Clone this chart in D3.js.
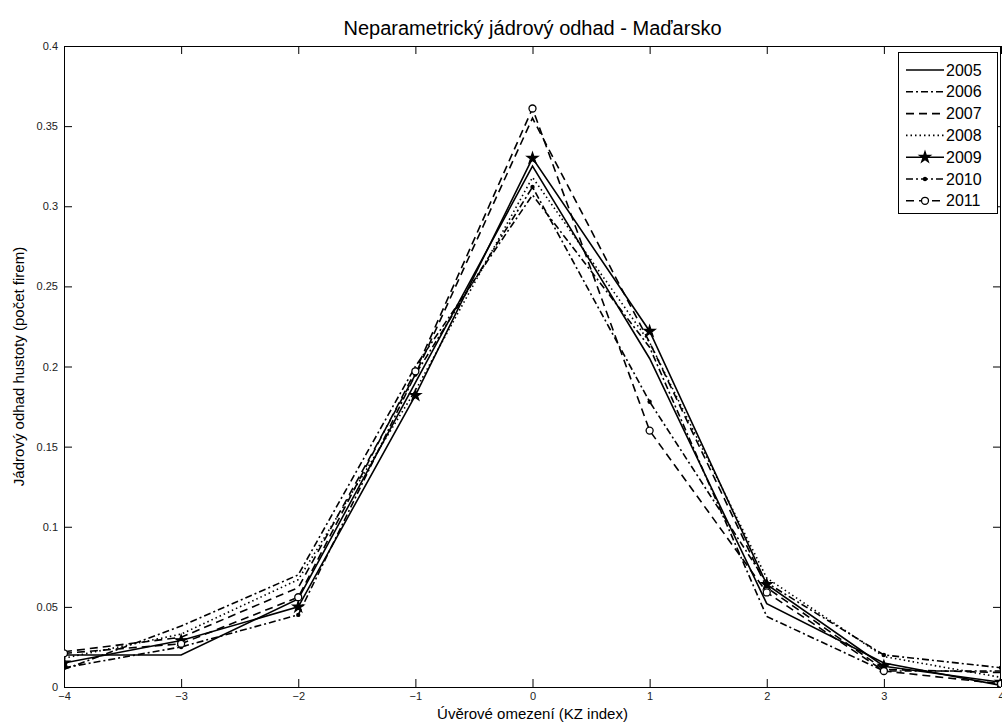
<!DOCTYPE html>
<html>
<head>
<meta charset="utf-8">
<script src="https://cdn.jsdelivr.net/npm/d3@7.9.0/dist/d3.min.js"></script>
<style>
  body { margin: 0; background: #fff; }
  svg { font-family: "Liberation Sans", Arial, sans-serif; }
</style>
</head>
<body>
<div id="chart"></div>
<script>
const xValues = [-4, -3, -2, -1, 0, 1, 2, 3, 4];
const years = ['2005', '2006', '2007', '2008', '2009', '2010', '2011'];
const y2005 = [0.020, 0.020, 0.055, 0.190, 0.325, 0.205, 0.052, 0.015, 0.001];
const y2006 = [0.011, 0.038, 0.070, 0.200, 0.307, 0.212, 0.044, 0.010, 0.010];
const y2007 = [0.022, 0.031, 0.062, 0.195, 0.355, 0.215, 0.062, 0.011, 0.009];
const y2008 = [0.018, 0.033, 0.067, 0.185, 0.318, 0.215, 0.068, 0.019, 0.006];
const y2009 = [0.015, 0.029, 0.050, 0.182, 0.330, 0.222, 0.064, 0.013, 0.003];
const y2010 = [0.012, 0.025, 0.045, 0.195, 0.312, 0.178, 0.065, 0.020, 0.012];
const y2011 = [0.021, 0.027, 0.056, 0.197, 0.361, 0.160, 0.059, 0.010, 0.002];
const xTicks = [-4, -3, -2, -1, 0, 1, 2, 3, 4];
const yTicks = [0, 0.05, 0.1, 0.15, 0.2, 0.25, 0.3, 0.35, 0.4];

const seriesValues = [y2005, y2006, y2007, y2008, y2009, y2010, y2011];
// matlab-like line styles
const styles = [
  { dash: null, marker: null },
  { dash: '7,3,2,3', marker: null },
  { dash: '8,5', marker: null },
  { dash: '1.5,3', marker: null },
  { dash: null, marker: 'star' },
  { dash: '7,3,2,3', marker: 'dot' },
  { dash: '8,5', marker: 'circle' },
];

const width = 1002, height = 724;
const margin = { top: 46, right: 1, bottom: 37, left: 64 };
const usable = {
  left: margin.left, top: margin.top,
  right: width - margin.right, bottom: height - margin.bottom,
};

const svg = d3.select('#chart').append('svg')
  .attr('width', width).attr('height', height);

const xScale = d3.scaleLinear().domain([-4, 4]).range([usable.left, usable.right]);
const yScale = d3.scaleLinear().domain([0, 0.4]).range([usable.bottom, usable.top]);

// axes (ticks pointing inward, box on)
const tickLen = 8;
const fmt = d => d === 0 ? '0' : String(+d.toFixed(2));

svg.append('g')
  .attr('transform', `translate(0,${usable.bottom})`)
  .call(d3.axisBottom(xScale).tickValues(xTicks).tickSize(-tickLen).tickPadding(5).tickFormat(d3.format('d')))
  .call(g => g.select('.domain').remove());
svg.append('g')
  .attr('transform', `translate(0,${usable.top})`)
  .call(d3.axisTop(xScale).tickValues(xTicks).tickSize(-tickLen).tickFormat(''))
  .call(g => g.select('.domain').remove());
svg.append('g')
  .attr('transform', `translate(${usable.left},0)`)
  .call(d3.axisLeft(yScale).tickValues(yTicks).tickSize(-tickLen).tickPadding(6).tickFormat(fmt))
  .call(g => g.select('.domain').remove());
svg.append('g')
  .attr('transform', `translate(${usable.right},0)`)
  .call(d3.axisRight(yScale).tickValues(yTicks).tickSize(-tickLen).tickFormat(''))
  .call(g => g.select('.domain').remove());

svg.selectAll('.tick line').attr('stroke', '#000').attr('stroke-width', 1);
svg.selectAll('.tick text').attr('fill', '#222').style('font-size', '11px');

svg.append('rect')
  .attr('x', usable.left + 0.5).attr('y', usable.top + 0.5)
  .attr('width', usable.right - usable.left - 1).attr('height', usable.bottom - usable.top)
  .attr('fill', 'none').attr('stroke', '#000');

svg.append('clipPath').attr('id', 'clip').append('rect')
  .attr('x', usable.left).attr('y', usable.top - 10)
  .attr('width', usable.right - usable.left).attr('height', usable.bottom - usable.top + 10);

const line = d3.line().x((d, i) => xScale(xValues[i])).y(d => yScale(d));
const star = d3.symbol().type(d3.symbolStar).size(38);

function drawMarker(g, type, x, y) {
  if (type === 'star') {
    g.append('path').attr('d', star()).attr('transform', `translate(${x},${y})`)
      .attr('fill', '#000').attr('stroke', '#000').attr('stroke-width', 1.2);
  } else if (type === 'dot') {
    g.append('circle').attr('cx', x).attr('cy', y).attr('r', 2.2).attr('fill', '#000');
  } else if (type === 'circle') {
    g.append('circle').attr('cx', x).attr('cy', y).attr('r', 3.5)
      .attr('fill', '#fff').attr('stroke', '#000').attr('stroke-width', 1.3);
  }
}

const plot = svg.append('g').attr('clip-path', 'url(#clip)');
seriesValues.forEach((vals, k) => {
  const st = styles[k];
  plot.append('path')
    .attr('d', line(vals))
    .attr('fill', 'none').attr('stroke', '#000').attr('stroke-width', 1.6)
    .attr('stroke-dasharray', st.dash);
  if (st.marker) {
    vals.forEach((v, i) => drawMarker(plot, st.marker, xScale(xValues[i]), yScale(v)));
  }
});

// legend
const leg = svg.append('g');
const lx = 898, ly = 52, lw = 99, lh = 161;
leg.append('rect').attr('x', lx + 0.5).attr('y', ly + 0.5).attr('width', lw).attr('height', lh)
  .attr('fill', '#fff').attr('stroke', '#000');
years.forEach((yr, k) => {
  const st = styles[k];
  const yy = ly + 18 + k * 21.8;
  leg.append('line').attr('x1', lx + 8).attr('x2', lx + 46).attr('y1', yy).attr('y2', yy)
    .attr('stroke', '#000').attr('stroke-width', 1.6).attr('stroke-dasharray', st.dash);
  if (st.marker) drawMarker(leg, st.marker, lx + 27, yy);
  leg.append('text').attr('x', lx + 48).attr('y', yy + 5.5).text(yr)
    .style('font-size', '16px').attr('fill', '#000');
});

// titles
svg.append('text').attr('x', (usable.left + usable.right) / 2).attr('y', 35)
  .attr('text-anchor', 'middle').style('font-size', '20px').text('Neparametrický jádrový odhad - Maďarsko');
svg.append('text').attr('x', (usable.left + usable.right) / 2).attr('y', 719)
  .attr('text-anchor', 'middle').style('font-size', '15px').text('Úvěrové omezení (KZ index)');
svg.append('text').attr('transform', `translate(24,${(usable.top + usable.bottom) / 2}) rotate(-90)`)
  .attr('text-anchor', 'middle').style('font-size', '15px').text('Jádrový odhad hustoty (počet firem)');
</script>
</body>
</html>
